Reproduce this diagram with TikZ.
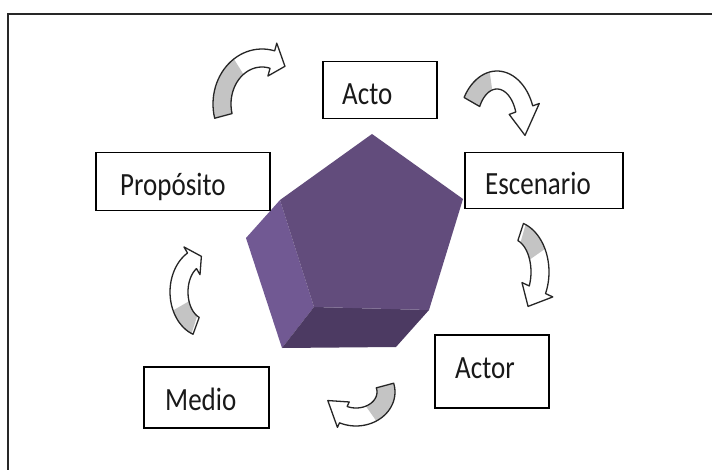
\documentclass[tikz,border=0pt]{standalone}
\usepackage{fontspec}
\usepackage{graphicx}
\setmainfont{Carlito}
\definecolor{penfront}{RGB}{98,76,124}
\definecolor{penleft}{RGB}{113,89,147}
\definecolor{penbottom}{RGB}{76,58,98}
\definecolor{arrowgray}{RGB}{196,196,196}
\definecolor{framegray}{RGB}{40,40,40}
\def\aw{9}
% #1 cx, #2 cy, #3 rx, #4 ry, #5 tail angle, #6 end of grey part, #7 head base angle, #8 tip angle, #9 head half width
\newcommand{\curvarrow}[9]{%
  \begin{scope}
    \clip (#1,#2) -- ({#1+400*cos(#5-2)},{#2+400*sin(#5-2)}) -- ({#1+400*cos((#5+#6)/2)},{#2+400*sin((#5+#6)/2)})
       -- ({#1+400*cos(#6)},{#2+400*sin(#6)}) -- cycle;
    \clip plot[domain=#5:#7, samples=30] ({#1+(#3+\aw)*cos(\x)},{#2+(#4+\aw)*sin(\x)})
     -- ({#1+(#3+#9)*cos(#7)},{#2+(#4+#9)*sin(#7)})
     -- ({#1+#3*cos(#8)},{#2+#4*sin(#8)})
     -- ({#1+(#3-#9)*cos(#7)},{#2+(#4-#9)*sin(#7)})
     -- plot[domain=#7:#5, samples=30] ({#1+(#3-\aw)*cos(\x)},{#2+(#4-\aw)*sin(\x)}) -- cycle;
    \fill[arrowgray] (#1-100,#2-100) rectangle (#1+100,#2+100);
  \end{scope}
  \draw[arrowline] plot[domain=#5:#7, samples=30] ({#1+(#3+\aw)*cos(\x)},{#2+(#4+\aw)*sin(\x)})
     -- ({#1+(#3+#9)*cos(#7)},{#2+(#4+#9)*sin(#7)})
     -- ({#1+#3*cos(#8)},{#2+#4*sin(#8)})
     -- ({#1+(#3-#9)*cos(#7)},{#2+(#4-#9)*sin(#7)})
     -- plot[domain=#7:#5, samples=30] ({#1+(#3-\aw)*cos(\x)},{#2+(#4-\aw)*sin(\x)}) -- cycle;
}
\begin{document}
\begin{tikzpicture}[x=1pt,y=-1pt,
  box/.style={draw=black, line width=1.5pt, fill=white, inner sep=0pt, anchor=north west},
  lbl/.style={inner sep=0pt, anchor=base west, text=black!90, font=\fontsize{27}{30}\selectfont},
  arrowline/.style={draw=black!85, line width=1.3pt, line join=round}]
\useasboundingbox (0,0) rectangle (712,470);
\fill[white] (0,0) rectangle (712,470);
% outer frame
\draw[framegray, line width=2pt] (8,14) rectangle (730,490);

% pentagon block
\fill[penleft] (280,200) -- (314,307) -- (282,348) -- (246,238) -- cycle;
\fill[penbottom] (314,307) -- (429,310) -- (396,347) -- (282,348) -- cycle;
\fill[penfront] (372,134) -- (463,199) -- (429,310) -- (314,307) -- (280,200) -- cycle;

% curved arrows (grey tail, white head)
\curvarrow{262}{104}{40}{46}{165}{238}{285}{305}{17}
\curvarrow{497}{124}{29}{44}{210}{262}{340}{375}{16}
\curvarrow{512}{272}{28}{42}{288}{325}{385}{415}{17}
\curvarrow{205}{292}{26}{36}{110}{150}{240}{262}{16}
\curvarrow{356}{392}{30}{25}{-15}{55}{115}{160}{14}

% boxes
\node[box, minimum width=114pt, minimum height=57pt] (acto) at (322,61) {};
\node[box, minimum width=174pt, minimum height=58pt] (proposito) at (95,152) {};
\node[box, minimum width=158pt, minimum height=56pt] (escenario) at (464,152) {};
\node[box, minimum width=114pt, minimum height=73pt] (actor) at (434,334) {};
\node[box, minimum width=125pt, minimum height=61pt] (medio) at (143,366) {};

% labels
\node[lbl] (tacto) at (342,105) {\scalebox{1}[1.2]{Acto}};
\node[lbl] (tproposito) at (120,196) {\scalebox{1}[1.2]{Propósito}};
\node[lbl] (tescenario) at (485,195) {\scalebox{1}[1.2]{Escenario}};
\node[lbl] (tactor) at (455,378) {\scalebox{1}[1.2]{Actor}};
\node[lbl] (tmedio) at (165,410) {\scalebox{1}[1.2]{Medio}};
\end{tikzpicture}
\end{document}
